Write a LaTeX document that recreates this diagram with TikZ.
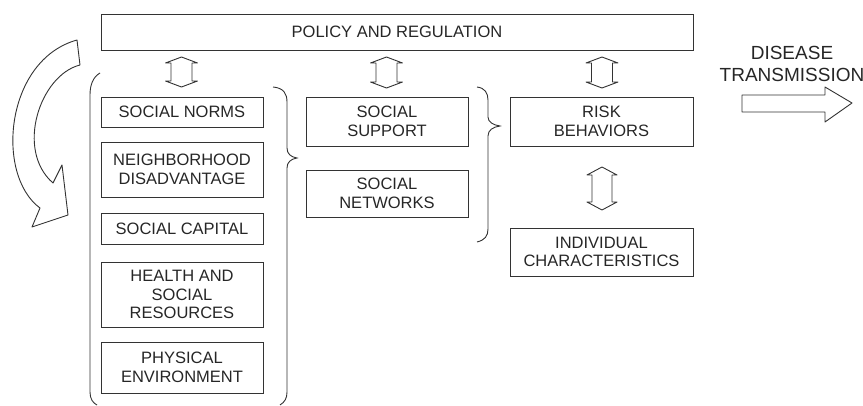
\documentclass[tikz,border=0pt]{standalone}
\usepackage{fontspec}
\setmainfont{Liberation Sans}
\newcommand{\dblarrow}[5]{%
  \draw[updown] (#1) ++(0,-#2) -- ++(#4,#3) -- ++({#5-#4},0) -- ++(0,{2*#2-2*#3})
    -- ++({#4-#5},0) -- ++(-#4,#3) -- ++(-#4,-#3) -- ++({#4-#5},0)
    -- ++(0,{2*#3-2*#2}) -- ++({#5-#4},0) -- cycle;}

\begin{document}
\begin{tikzpicture}[x=1pt, y=-1pt,
  every node/.style={text=black!85, font=\fontsize{16.5}{18.5}\selectfont},
  box/.style={draw=black!80, line width=0.9pt, align=center, inner sep=0pt},
  leftbox/.style={box, minimum width=162},
  midbox/.style={box, minimum width=162},
  rightbox/.style={box, minimum width=183},
  updown/.style={draw=black!80, line width=0.9pt, fill=white, line join=round},
  brace/.style={draw=black!80, line width=0.9pt}]

  \useasboundingbox (0,0) rectangle (863,406);

  \node[box, minimum width=592, minimum height=36] (policy) at (397,32) {POLICY AND REGULATION};

  \coordinate (arrowa) at (181.5,72);
  \coordinate (arrowb) at (386.5,72.5);
  \coordinate (arrowc) at (602,72.5);
  \coordinate (arrowd) at (602,188.5);
  \dblarrow{arrowa}{15}{6}{16}{10.5}
  \dblarrow{arrowb}{15.5}{6}{16}{10.5}
  \dblarrow{arrowc}{15.5}{6}{16}{10.5}
  \dblarrow{arrowd}{21.5}{8}{15}{10}

  \node[leftbox, minimum height=30] (norms) at (182,112) {SOCIAL NORMS};
  \node[leftbox, minimum height=55] (neighborhood) at (182,169.5) {NEIGHBORHOOD\\DISADVANTAGE};
  \node[leftbox, minimum height=31] (capital) at (182,228.5) {SOCIAL CAPITAL};
  \node[leftbox, minimum height=65] (resources) at (182,294.5) {HEALTH AND\\SOCIAL\\RESOURCES};
  \node[leftbox, minimum height=51] (physical) at (182,367.5) {PHYSICAL\\ENVIRONMENT};

  \node[midbox, minimum height=49] (support) at (387,121.5) {SOCIAL\\SUPPORT};
  \node[midbox, minimum height=47] (networks) at (387,193.5) {SOCIAL\\NETWORKS};

  \node[rightbox, minimum height=49] (risk) at (601.5,121.5) {RISK\\BEHAVIORS};
  \node[rightbox, minimum height=48] (individual) at (601.5,252) {INDIVIDUAL\\CHARACTERISTICS};

  \node[align=center, font=\fontsize{19}{22}\selectfont] (disease) at (792,64) {DISEASE\\TRANSMISSION};
  \coordinate (transmit) at (742,95);
  \draw[updown] (transmit) -- ++(83,0) -- ++(0,-8) -- ++(27,16) -- ++(-27,19)
    -- ++(0,-10) -- ++(-83,0) -- cycle;

  \draw[brace] (100,73) .. controls (93,77) and (90,85) .. (90,95)
    -- (90,392) .. controls (90,399) and (93,403) .. (97,405);
  \draw[brace] (273,87) .. controls (284,88) and (287,94) .. (287,102)
    -- (287,148) .. controls (287,154) and (291,157) .. (297,158)
    .. controls (291,159) and (287,162) .. (287,168)
    -- (287,392) .. controls (287,398) and (285,402) .. (280,405);
  \draw[brace] (477,87) .. controls (485,88) and (488,93) .. (488,100)
    -- (488,117) .. controls (488,122) and (493,125) .. (500,126)
    .. controls (493,127) and (488,130) .. (488,136)
    -- (488,229) .. controls (488,236) and (485,240) .. (477,242);

  \draw[updown] (77,40) -- (80,65)
    .. controls (40,75) and (15,150) .. (53,183)
    -- (62,165) -- (68,215) -- (32,227) -- (40,208)
    .. controls (-5,175) and (5,60) .. cycle;
\end{tikzpicture}
\end{document}
